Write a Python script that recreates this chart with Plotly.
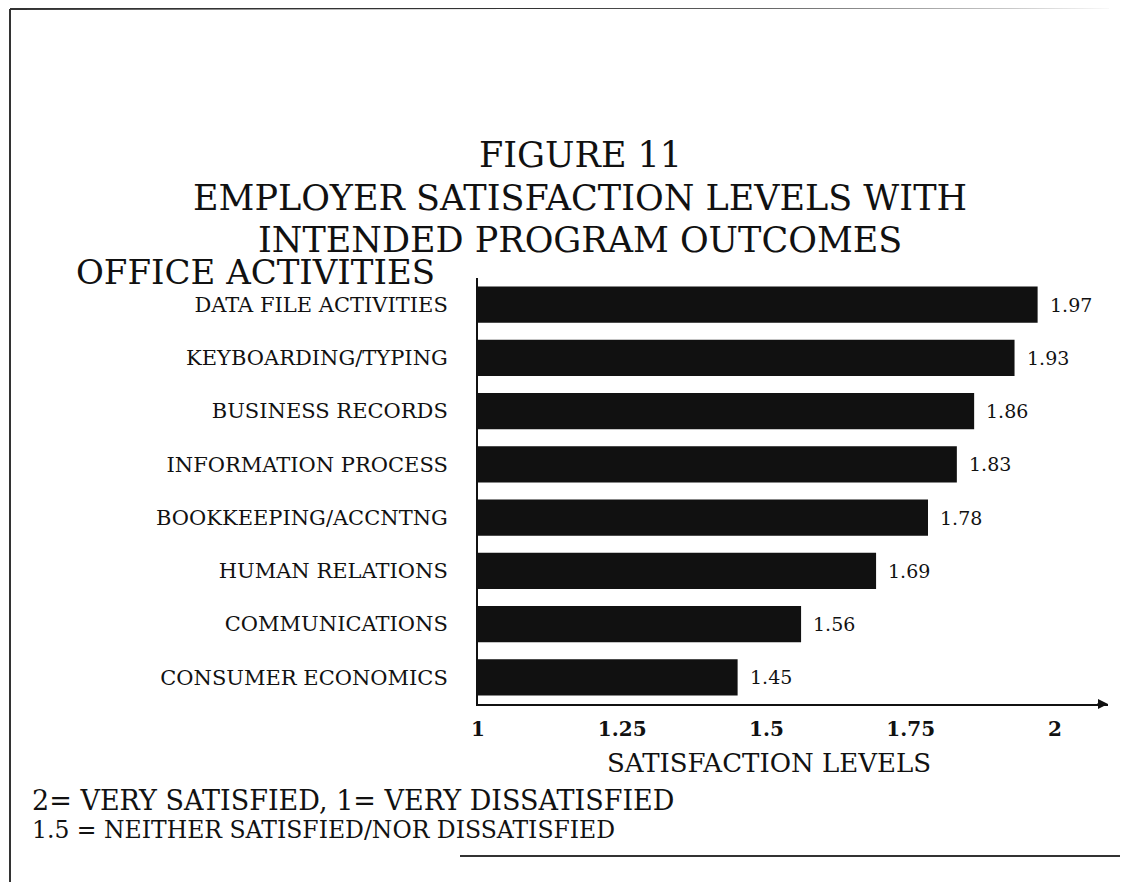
import plotly.graph_objects as go

categories = ["DATA FILE ACTIVITIES", "KEYBOARDING/TYPING", "BUSINESS RECORDS",
              "INFORMATION PROCESS", "BOOKKEEPING/ACCNTNG", "HUMAN RELATIONS",
              "COMMUNICATIONS", "CONSUMER ECONOMICS"]
values = [1.97, 1.93, 1.86, 1.83, 1.78, 1.69, 1.56, 1.45]
tick_vals = [1, 1.25, 1.5, 1.75, 2]
tick_text = ["1", "1.25", "1.5", "1.75", "2"]

FONT = "DejaVu Serif"
INK = "#111111"
# page body has an 8px margin; figure is sized to fit the 1128x882 window
OFF = 8
W, H = 1120, 874
ML, MR, MT, MB = 470, 20, 270, 178

fig = go.Figure()
fig.add_trace(go.Bar(
    y=categories, x=[v - 1 for v in values], base=1, orientation="h",
    marker=dict(color=INK, line=dict(width=0)), width=0.68,
    hoverinfo="skip",
))

# value labels beside bar ends
for c, v in zip(categories, values):
    fig.add_annotation(x=v, y=c, xref="x", yref="y", text=f"{v:.2f}", showarrow=False,
                       xanchor="left", yanchor="middle", xshift=10,
                       font=dict(family=FONT, size=19, color=INK))

fig.update_layout(
    width=W, height=H,
    margin=dict(l=ML, r=MR, t=MT, b=MB, autoexpand=False),
    paper_bgcolor="white", plot_bgcolor="white",
    showlegend=False,
    font=dict(family=FONT, color=INK),
    xaxis=dict(range=[1, 2.092], tickvals=tick_vals, ticktext=tick_text, automargin=False,
               showgrid=False, zeroline=False, showline=True, linecolor=INK, linewidth=2,
               ticks="", ticklabelstandoff=6,
               tickfont=dict(family=FONT, size=20, color=INK, weight="bold")),
    yaxis=dict(autorange="reversed", showgrid=False, zeroline=False, showline=True, automargin=False,
               linecolor=INK, linewidth=2, ticks="", ticklabelstandoff=24,
               tickfont=dict(family=FONT, size=21, color=INK)),
)

def ypaper(py):
    return (H - MB - (py - OFF)) / (H - MT - MB)

def xpaper(px):
    return (px - OFF - ML) / (W - ML - MR)

def text_at(t, x, y, size, anchor="center"):
    fig.add_annotation(text=t, xref="paper", yref="paper", x=xpaper(x), y=ypaper(y),
                       xanchor=anchor, yanchor="middle", showarrow=False,
                       font=dict(family=FONT, size=size, color=INK))

text_at("FIGURE 11", 580, 155, 35)
text_at("EMPLOYER SATISFACTION LEVELS WITH", 580, 198, 35)
text_at("INTENDED PROGRAM OUTCOMES", 580, 240, 35)
text_at("OFFICE ACTIVITIES", 74, 272, 34, "left")
text_at("SATISFACTION LEVELS", 769, 763, 26)
text_at("2= VERY SATISFIED, 1= VERY DISSATISFIED", 30, 800, 27, "left")
text_at("1.5 = NEITHER SATISFIED/NOR DISSATISFIED", 30, 830, 23.5, "left")

# axis arrow head
fig.add_annotation(x=1.0, y=0, xref="paper", yref="paper", ax=-12, ay=0, axref="pixel", ayref="pixel",
                   text="", showarrow=True, arrowhead=2, arrowsize=1, arrowwidth=2, arrowcolor=INK)

# scan frame lines (reference pixel coordinates)
frame = [
    (10, 9, 10, 890),
    (10, 9, 1136, 7),
    (460, 856, 1136, 856),
]
for x0, y0, x1, y1 in frame:
    fig.add_shape(type="line", xref="paper", yref="paper",
                  x0=xpaper(x0), y0=ypaper(y0), x1=xpaper(x1), y1=ypaper(y1),
                  line=dict(color="#333333", width=2))

fig.write_html("out.html")
